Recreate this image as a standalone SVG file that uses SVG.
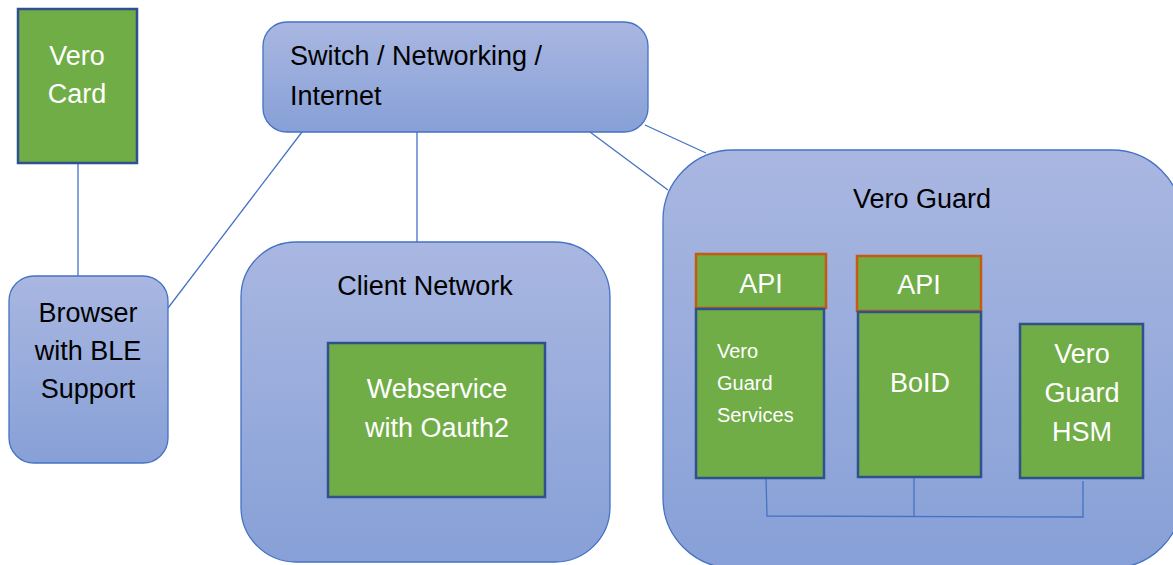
<svg xmlns="http://www.w3.org/2000/svg" width="1173" height="565" viewBox="0 0 1173 565">
<defs>
<linearGradient id="bg" x1="0" y1="0" x2="0" y2="1">
<stop offset="0" stop-color="#A9B7E1"/>
<stop offset="1" stop-color="#87A0D7"/>
</linearGradient>
<style>
.blue{fill:url(#bg);stroke:#4472C4;stroke-width:1.3}
.green{fill:#70AD47;stroke:#2F528F;stroke-width:2.5}
.api{fill:#70AD47;stroke:#C55A11;stroke-width:2.5}
.dk{font-family:"Liberation Sans",Arial,sans-serif;font-size:27px;fill:#000}
.wt{font-family:"Liberation Sans",Arial,sans-serif;font-size:27px;fill:#fff}
.ws{font-family:"Liberation Sans",Arial,sans-serif;font-size:20px;fill:#fff}
.c{text-anchor:middle}
.conn line,.conn polyline{stroke:#4472C4;stroke-width:1.3;fill:none}
</style>
</defs>
<rect width="1173" height="565" fill="#fff"/>
<g class="conn" id="connectors">
<line x1="78" y1="163" x2="78" y2="276"/>
<line x1="302" y1="132" x2="168" y2="308"/>
<line x1="417" y1="132" x2="417" y2="242"/>
<line x1="590" y1="132" x2="668" y2="190"/>
<line x1="645" y1="125" x2="706" y2="153"/>
</g>
<g id="vero-card">
<rect class="green" x="18" y="9" width="119" height="154"/>
<text class="wt c" x="77" y="65">Vero</text>
<text class="wt c" x="77" y="103">Card</text>
</g>
<g id="switch">
<rect class="blue" x="263" y="22" width="385" height="110" rx="24"/>
<text class="dk" x="290" y="65">Switch / Networking /</text>
<text class="dk" x="290" y="105">Internet</text>
</g>
<g id="browser">
<rect class="blue" x="9" y="276" width="159" height="187" rx="25"/>
<text class="dk c" x="88" y="322">Browser</text>
<text class="dk c" x="88" y="360">with BLE</text>
<text class="dk c" x="88" y="398">Support</text>
</g>
<g id="client-network">
<rect class="blue" x="241" y="242" width="369" height="320" rx="55"/>
<text class="dk c" x="425" y="295">Client Network</text>
</g>
<g id="webservice">
<rect class="green" x="328" y="343" width="217" height="154"/>
<text class="wt c" x="437" y="398">Webservice</text>
<text class="wt c" x="437" y="437">with Oauth2</text>
</g>
<g id="vero-guard">
<rect class="blue" x="663" y="150" width="519" height="418" rx="70"/>
<text class="dk c" x="922" y="208">Vero Guard</text>
</g>
<g class="conn" id="guard-connectors">
<polyline points="766,478 767,516 1083,517 1083,481"/>
<line x1="914" y1="477" x2="914" y2="516"/>
</g>
<g id="api-1">
<rect class="api" x="696" y="254" width="130" height="54"/>
<text class="wt c" x="761" y="293">API</text>
</g>
<g id="vero-guard-services">
<rect class="green" x="696" y="309" width="128" height="169"/>
<text class="ws" x="717" y="358">Vero</text>
<text class="ws" x="717" y="390">Guard</text>
<text class="ws" x="717" y="422">Services</text>
</g>
<g id="api-2">
<rect class="api" x="857" y="256" width="124" height="55"/>
<text class="wt c" x="919" y="294">API</text>
</g>
<g id="boid">
<rect class="green" x="858" y="312" width="123" height="165"/>
<text class="wt c" x="920" y="392">BoID</text>
</g>
<g id="hsm">
<rect class="green" x="1020" y="324" width="123" height="154"/>
<text class="wt c" x="1082" y="363">Vero</text>
<text class="wt c" x="1082" y="402">Guard</text>
<text class="wt c" x="1082" y="441">HSM</text>
</g>
</svg>
